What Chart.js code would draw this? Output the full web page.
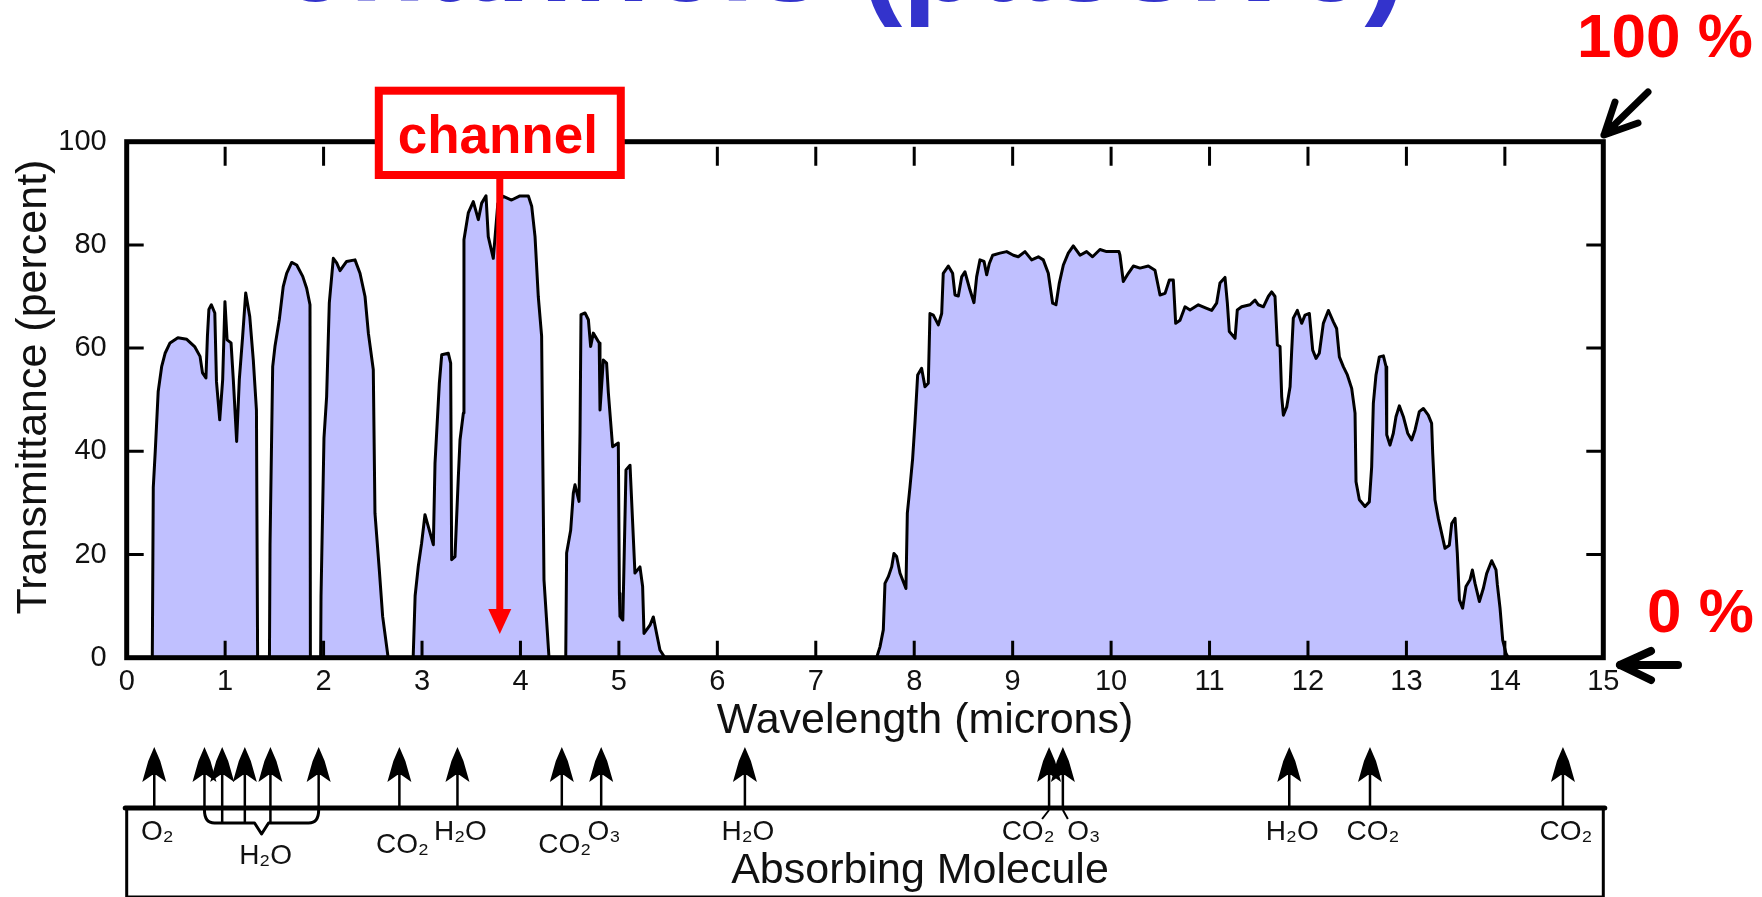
<!DOCTYPE html>
<html>
<head>
<meta charset="utf-8">
<title>Atmospheric transmittance - channels (passive)</title>
<script src="https://cdn.jsdelivr.net/npm/chart.js@4.4.1/dist/chart.umd.min.js"></script>
<style>
    html, body { margin: 0; padding: 0; background: #fff; }
    #wrap { position: relative; width: 1762px; height: 897px; overflow: hidden; }
</style>
</head>
<body>
<div id="wrap"><canvas id="transmittance-chart" width="1762" height="897"></canvas></div>
<script>
// Transmittance curve
const wavelengths = [
    0, 0.26, 0.27, 0.29, 0.32, 0.355, 0.39, 0.44, 0.52, 0.61, 0.69, 0.745, 0.77, 0.805, 0.82, 0.835, 0.86, 0.895,
    0.912, 0.945, 0.975, 0.998, 1.02, 1.06, 1.083, 1.117, 1.144, 1.178, 1.209, 1.25, 1.286, 1.318, 1.33,
    1.45, 1.456, 1.483, 1.506, 1.55, 1.59, 1.625, 1.676, 1.727, 1.788, 1.828, 1.862, 1.866,
    1.97, 1.974, 2.004, 2.031, 2.058, 2.099, 2.133, 2.167, 2.234, 2.319, 2.37, 2.421, 2.455, 2.505, 2.522, 2.566, 2.6, 2.656,
    2.91, 2.93, 2.962, 2.996, 3.03, 3.064, 3.115, 3.132, 3.176, 3.2, 3.267, 3.291, 3.301, 3.335, 3.369, 3.386, 3.42,
    3.426, 3.47, 3.521, 3.572, 3.606, 3.65, 3.673, 3.724, 3.77, 3.826, 3.91, 3.995, 4.08, 4.114, 4.148, 4.181, 4.215, 4.239, 4.29,
    4.46, 4.469, 4.51, 4.537, 4.554, 4.595, 4.605, 4.615, 4.656, 4.69, 4.713, 4.74, 4.8, 4.808, 4.842, 4.875, 4.893,
    4.936, 4.994, 5.005, 5.011, 5.04, 5.072, 5.113, 5.14, 5.163, 5.214, 5.241, 5.255, 5.316, 5.35, 5.383, 5.417, 5.468,
    7.618, 7.652, 7.686, 7.703, 7.737, 7.771, 7.794, 7.821, 7.855, 7.916, 7.93, 7.957, 7.984, 8.008, 8.035, 8.075,
    8.109, 8.143, 8.16, 8.194, 8.245, 8.279, 8.295, 8.346, 8.39, 8.414, 8.448, 8.482, 8.515, 8.566, 8.607, 8.634,
    8.668, 8.709, 8.736, 8.763, 8.797, 8.871, 8.939, 9.007, 9.057, 9.125, 9.193, 9.261, 9.311, 9.362, 9.406, 9.44,
    9.474, 9.515, 9.565, 9.616, 9.684, 9.751, 9.812, 9.887, 9.954, 10.08, 10.09, 10.124, 10.175, 10.226, 10.294,
    10.378, 10.446, 10.497, 10.548, 10.592, 10.632, 10.656, 10.7, 10.751, 10.802, 10.886, 10.971, 11.022, 11.072,
    11.106, 11.157, 11.181, 11.201, 11.259, 11.282, 11.326, 11.411, 11.462, 11.496, 11.547, 11.597, 11.631, 11.665,
    11.689, 11.716, 11.733, 11.75, 11.784, 11.818, 11.834, 11.851, 11.892, 11.936, 11.97, 12.014, 12.048, 12.082,
    12.115, 12.156, 12.207, 12.258, 12.291, 12.319, 12.359, 12.4, 12.444, 12.478, 12.488, 12.522, 12.579, 12.623,
    12.647, 12.664, 12.691, 12.725, 12.766, 12.793, 12.8, 12.833, 12.867, 12.894, 12.928, 12.969, 13.013, 13.053,
    13.087, 13.131, 13.172, 13.222, 13.256, 13.267, 13.29, 13.324, 13.358, 13.392, 13.436, 13.46, 13.494, 13.517,
    13.538, 13.571, 13.605, 13.646, 13.67, 13.697, 13.741, 13.781, 13.815, 13.866, 13.91, 13.924, 13.951, 13.978,
    14.012, 14.035, 15
];
const transmittance = [
    0, 0, 33, 40, 51.6, 56.4, 59, 61, 62, 61.7, 60.3, 58.4, 55.2, 54.2, 62.3, 67.5, 68.4, 66.8,
    53.5, 46.1, 53.9, 69, 61.6, 61, 53.9, 41.9, 53.9, 62.3, 70.7, 66.1, 57.7, 48, 0,
    0, 22, 56.4, 60.3, 65.5, 71.9, 74.5, 76.6, 76.1, 73.9, 71.6, 68.4, 0,
    0, 12, 42.6, 50.6, 68.7, 77.4, 76.5, 75, 76.8, 77.1, 74.5, 70, 62.9, 55.8, 28, 17, 8, 0,
    0, 12, 17.7, 22.2, 27.7, 25.4, 21.9, 37.7, 53.2, 58.7, 59, 57.1, 19, 19.6, 35.1, 42.2, 47.4,
    81, 86.2, 88.4, 84.9, 88.1, 89.5, 81.6, 77.4, 88, 89.4, 88.7, 89.5, 89.5, 87.5, 81.6, 70, 62.3, 15.1, 0,
    0, 20.3, 24.7, 31.9, 33.5, 30.3, 43.5, 66.5, 66.8, 65.5, 60.3, 62.9, 61, 48, 57.7, 57.1, 51.3,
    40.9, 41.6, 12.5, 8, 7.3, 36.4, 37.3, 26, 16.4, 17.6, 13.8, 4.7, 6.3, 7.9, 4.7, 1.5, 0,
    0, 2.1, 5.4, 14.4, 15.7, 17.6, 20.2, 19.6, 16.4, 13.4, 28, 33.1, 38.6, 45.7, 54.8, 56.1,
    52.5, 53.2, 66.7, 66.4, 64.5, 66.7, 74.5, 75.9, 74.5, 70.3, 70.1, 73.8, 74.8, 71.3, 68.8, 73.8,
    77.1, 76.8, 74.2, 76.4, 78, 78.4, 78.7, 78, 77.7, 78.7, 77.1, 77.7, 77.1, 74.5, 68.7, 68.4,
    72.6, 76.1, 78.4, 79.8, 78, 78.7, 77.7, 79.1, 78.7, 78.7, 78, 72.9, 74.5, 75.9, 75.5,
    75.9, 75.1, 70.3, 70.6, 73.2, 73.2, 64.8, 65.4, 68, 67.4, 68.4, 67.7, 67.3, 68.7,
    72.6, 73.7, 68.7, 63.2, 61.9, 67.4, 68, 68.4, 69.3, 68.4, 68, 70, 70.9, 70,
    60.6, 60.3, 50.6, 47, 48.6, 52.5, 59.3, 65.8, 67.3, 64.8, 66.4, 66.7, 59.6, 58,
    59, 64.8, 67.3, 65.1, 63.8, 58.3, 56.4, 54.8, 52.2, 47.4, 34.1, 30.6, 29.3, 30.2,
    37, 49.3, 54.8, 58.3, 58.5, 56.4, 43.2, 41.2, 43.5, 46.7, 48.8, 46.7, 43.5, 42.2,
    44.1, 47.7, 48.3, 47, 45.4, 39.6, 30.6, 27, 24.1, 21.2, 21.8, 26, 27, 20.2,
    11.2, 9.6, 13.8, 15.1, 17, 14.4, 10.9, 13.4, 16.3, 18.8, 17, 14.1, 9.6, 3.4,
    0.8, 0, 0
];

// Axes
const wavelengthRange = [0, 15];
const wavelengthStep = 1;
const percentRange = [0, 100];
const percentStep = 20;

// Absorbing molecules shown under the plot
const absorberWavelengths = [0.28, 0.79, 0.97, 1.2, 1.46, 1.95, 2.77, 3.36, 4.42, 4.82, 6.28, 9.37, 9.51, 11.81, 12.63, 14.59];
const absorberNames = ['O₂', '', '', '', '', '', 'CO₂', 'H₂O', 'CO₂', 'O₃', 'H₂O', 'CO₂', 'O₃', 'H₂O', 'CO₂', 'CO₂'];
const waterBand = [0.79, 1.95];
const waterBandName = 'H₂O';

// The highlighted window
const channelWavelength = 3.79;

const sans = '"Liberation Sans", Arial, Helvetica, sans-serif';
const ink = '#111';

function drawArrowHead(ctx, px, tipY) {
    // filled "tree" style head used on the molecule markers
    ctx.beginPath();
    ctx.moveTo(px, tipY);
    ctx.lineTo(px + 6, tipY + 14);
    ctx.lineTo(px + 12, tipY + 35);
    ctx.lineTo(px + 2, tipY + 28);
    ctx.lineTo(px - 2, tipY + 28);
    ctx.lineTo(px - 12, tipY + 35);
    ctx.lineTo(px - 6, tipY + 14);
    ctx.closePath();
    ctx.fill();
}

function strokeLines(ctx, segments, width, color) {
    ctx.strokeStyle = color;
    ctx.lineWidth = width;
    ctx.lineCap = 'round';
    ctx.lineJoin = 'round';
    ctx.beginPath();
    segments.forEach(([x1, y1, x2, y2]) => {
        ctx.moveTo(x1, y1);
        ctx.lineTo(x2, y2);
    });
    ctx.stroke();
}

const overlayPlugin = {
    id: 'overlay',

    afterDatasetsDraw(chart) {
        const { ctx, chartArea: area, scales: { x, y } } = chart;
        ctx.save();

        // tick marks point inwards on all four sides
        const ticks = [];
        x.ticks.forEach(t => {
            if (t.value <= wavelengthRange[0] || t.value >= wavelengthRange[1]) return;
            const px = x.getPixelForValue(t.value);
            ticks.push([px, area.bottom, px, area.bottom - 17]);
            ticks.push([px, area.top + 5, px, area.top + 24]);
        });
        y.ticks.forEach(t => {
            if (t.value <= percentRange[0] || t.value >= percentRange[1]) return;
            const py = y.getPixelForValue(t.value);
            ticks.push([area.left, py, area.left + 17, py]);
            ticks.push([area.right - 17, py, area.right, py]);
        });
        ctx.lineCap = 'butt';
        ctx.strokeStyle = '#000';
        ctx.lineWidth = 3;
        ctx.beginPath();
        ticks.forEach(([x1, y1, x2, y2]) => { ctx.moveTo(x1, y1); ctx.lineTo(x2, y2); });
        ctx.stroke();

        // frame
        ctx.lineWidth = 5;
        ctx.lineJoin = 'miter';
        ctx.strokeRect(area.left, area.top, area.width, area.height);

        ctx.restore();
    },

    afterDraw(chart) {
        const { ctx, chartArea: area, scales: { x } } = chart;
        ctx.save();

        // title line, mostly cut off at the top edge
        ctx.fillStyle = '#3333cc';
        ctx.font = 'bold 126px ' + sans;
        ctx.textAlign = 'left';
        ctx.textBaseline = 'alphabetic';
        ctx.fillText('channels (passive)', 279, 1);

        // axis titles
        ctx.fillStyle = ink;
        ctx.font = '43px ' + sans;
        ctx.textAlign = 'center';
        ctx.fillText('Wavelength (microns)', 925, 733);
        ctx.save();
        ctx.translate(46, 387);
        ctx.rotate(-Math.PI / 2);
        ctx.fillText('Transmittance (percent)', 0, 0);
        ctx.restore();

        // channel marker
        const cx = x.getPixelForValue(channelWavelength);
        ctx.fillStyle = '#fff';
        ctx.fillRect(cx - 121, 90.7, 242, 84.3);
        ctx.strokeStyle = '#ff0000';
        ctx.lineWidth = 8;
        ctx.strokeRect(cx - 121, 90.7, 242, 84.3);
        ctx.fillStyle = '#ff0000';
        ctx.font = 'bold 53px ' + sans;
        ctx.textAlign = 'center';
        ctx.fillText('channel', cx - 2, 153);
        ctx.fillRect(cx - 3.5, 179, 7, 433);
        ctx.beginPath();
        ctx.moveTo(cx - 11.5, 609);
        ctx.lineTo(cx + 11.5, 609);
        ctx.lineTo(cx, 634);
        ctx.closePath();
        ctx.fill();

        // 100 % / 0 % callouts
        ctx.font = 'bold 62px ' + sans;
        ctx.textAlign = 'left';
        ctx.fillText('100 %', 1577, 57);
        ctx.fillText('0 %', 1647, 632);
        strokeLines(ctx, [
            [1648, 92, 1606, 133],
            [1604, 135, 1615, 102],
            [1604, 135, 1638, 123]
        ], 7, '#000');
        strokeLines(ctx, [
            [1678, 665, 1624, 665],
            [1620, 665, 1651, 651],
            [1620, 665, 1651, 680]
        ], 8, '#000');

        // absorbing molecule panel
        const boxTop = 808;
        ctx.strokeStyle = '#000';
        ctx.lineWidth = 3;
        ctx.strokeRect(area.left, boxTop, area.width, 89);
        ctx.lineWidth = 5;
        ctx.beginPath();
        ctx.moveTo(area.left - 1.5, boxTop);
        ctx.lineTo(area.right + 1.5, boxTop);
        ctx.stroke();

        const bandLeft = x.getPixelForValue(waterBand[0]);
        const bandRight = x.getPixelForValue(waterBand[1]);
        const bandMid = (bandLeft + bandRight) / 2;

        ctx.fillStyle = '#000';
        ctx.strokeStyle = '#000';
        ctx.lineWidth = 2.5;
        ctx.lineCap = 'butt';
        absorberWavelengths.forEach(w => {
            const px = x.getPixelForValue(w);
            const inBand = w > waterBand[0] && w < waterBand[1];
            ctx.beginPath();
            ctx.moveTo(px, 770);
            ctx.lineTo(px, inBand ? 823 : boxTop + 2);
            ctx.stroke();
            drawArrowHead(ctx, px, 747);
        });

        // brace grouping the near-infrared water bands
        ctx.lineWidth = 3;
        ctx.lineJoin = 'round';
        ctx.beginPath();
        ctx.moveTo(bandLeft, boxTop + 2);
        ctx.quadraticCurveTo(bandLeft, 823, bandLeft + 10, 823);
        ctx.lineTo(bandMid - 7, 823);
        ctx.lineTo(bandMid, 834);
        ctx.lineTo(bandMid + 7, 823);
        ctx.lineTo(bandRight - 10, 823);
        ctx.quadraticCurveTo(bandRight, 823, bandRight, boxTop + 2);
        ctx.stroke();

        // leaders for the crowded 9.4-9.6 micron pair
        const pairA = x.getPixelForValue(absorberWavelengths[11]);
        const pairB = x.getPixelForValue(absorberWavelengths[12]);
        ctx.lineWidth = 2;
        ctx.beginPath();
        ctx.moveTo(pairA, boxTop + 2); ctx.lineTo(pairA - 7, 819);
        ctx.moveTo(pairB, boxTop + 2); ctx.lineTo(pairB + 5, 819);
        ctx.stroke();

        ctx.font = '28px ' + sans;
        ctx.fillStyle = ink;
        ctx.textAlign = 'center';
        absorberNames.forEach((name, i) => {
            if (!name) return;
            const w = absorberWavelengths[i];
            let px = x.getPixelForValue(w) + 3;
            let baseY = 840;
            if (i === 11) px -= 24;
            if (i === 12) px += 18;
            if (name === 'CO₂' && w < 5) baseY = 853;
            ctx.fillText(name, px, baseY);
        });
        ctx.fillText(waterBandName, bandMid + 4, 864);

        ctx.font = '43px ' + sans;
        ctx.fillText('Absorbing Molecule', 920, 883);

        ctx.restore();
    }
};

const chartConfig = {
    type: 'line',
    data: {
        datasets: [{
            label: 'Transmittance',
            data: wavelengths.map((w, i) => ({ x: w, y: transmittance[i] })),
            borderColor: '#000',
            borderWidth: 3,
            borderJoinStyle: 'round',
            backgroundColor: '#c0c0ff',
            fill: 'origin',
            pointRadius: 0,
            tension: 0
        }]
    },
    options: {
        responsive: false,
        animation: false,
        devicePixelRatio: 1,
        layout: {
            padding: { top: 141.7, right: 158.7, bottom: 0, left: 0 }
        },
        plugins: {
            legend: { display: false },
            tooltip: { enabled: false }
        },
        scales: {
            x: {
                type: 'linear',
                min: wavelengthRange[0],
                max: wavelengthRange[1],
                grid: { display: false, drawTicks: false },
                border: { display: false },
                ticks: {
                    stepSize: wavelengthStep,
                    padding: 7,
                    maxRotation: 0,
                    color: ink,
                    font: { family: sans, size: 29 }
                },
                afterFit(scale) { scale.height = 897 - 657.7; }
            },
            y: {
                min: percentRange[0],
                max: percentRange[1],
                grid: { display: false, drawTicks: false },
                border: { display: false },
                ticks: {
                    stepSize: percentStep,
                    padding: 20,
                    color: ink,
                    font: { family: sans, size: 29 }
                },
                afterFit(scale) { scale.width = 126.7; }
            }
        }
    },
    plugins: [overlayPlugin]
};

const app = {
    chart: null,
    init() {
        this.chart = new Chart(document.getElementById('transmittance-chart'), chartConfig);
    }
};

document.addEventListener('DOMContentLoaded', () => app.init());
</script>
</body>
</html>
